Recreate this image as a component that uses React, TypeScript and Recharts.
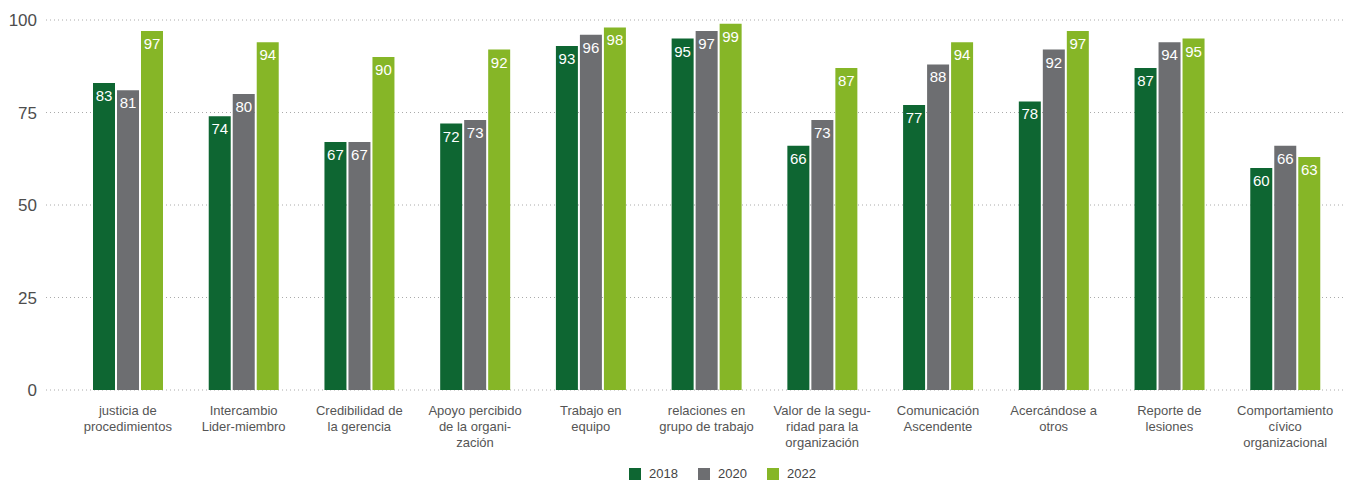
import React from "react";
import {
  BarChart,
  Bar,
  XAxis,
  YAxis,
  CartesianGrid,
  Legend,
  LabelList,
} from "recharts";

const categories = [
  "justicia de\nprocedimientos",
  "Intercambio\nLider-miembro",
  "Credibilidad de\nla gerencia",
  "Apoyo percibido\nde la organi-\nzación",
  "Trabajo en\nequipo",
  "relaciones en\ngrupo de trabajo",
  "Valor de la segu-\nridad para la\norganización",
  "Comunicación\nAscendente",
  "Acercándose a\notros",
  "Reporte de\nlesiones",
  "Comportamiento\ncívico\norganizacional",
];

const values2018 = [83, 74, 67, 72, 93, 95, 66, 77, 78, 87, 60];
const values2020 = [81, 80, 67, 73, 96, 97, 73, 88, 92, 94, 66];
const values2022 = [97, 94, 90, 92, 98, 99, 87, 94, 97, 95, 63];

const yTicks = [0, 25, 50, 75, 100];

const seriesList = [
  { key: "y2018", name: "2018", color: "#0e6632" },
  { key: "y2020", name: "2020", color: "#6d6e71" },
  { key: "y2022", name: "2022", color: "#86b627" },
];

const data = categories.map((c, i) => ({
  category: c,
  y2018: values2018[i],
  y2020: values2020[i],
  y2022: values2022[i],
}));

const FONT = '"Liberation Sans", Arial, Helvetica, sans-serif';

const CategoryTick = ({ x, y, payload }: any) => {
  const lines = String(payload.value).split("\n");
  return (
    <text x={x} y={y} textAnchor="middle" fill="#555" fontSize={13} fontFamily={FONT}>
      {lines.map((l, i) => (
        <tspan key={i} x={x} dy={i === 0 ? 25 : 16}>
          {l}
        </tspan>
      ))}
    </text>
  );
};

const ValueLabel = ({ x, y, width, value }: any) => (
  <text
    x={x + width / 2}
    y={y + 18}
    textAnchor="middle"
    fill="#fff"
    fontSize={15}
    fontFamily={FONT}
  >
    {value}
  </text>
);

const LegendBox = () => (
  <div
    style={{
      display: "flex",
      justifyContent: "center",
      gap: 20,
      fontFamily: FONT,
      fontSize: 13,
      color: "#444",
      paddingTop: 15,
      paddingLeft: 102,
    }}
  >
    {seriesList.map((s) => (
      <div key={s.key} style={{ display: "flex", alignItems: "center", gap: 8 }}>
        <span style={{ width: 12, height: 12, background: s.color, display: "inline-block" }} />
        <span>{s.name}</span>
      </div>
    ))}
  </div>
);

export default function App() {
  return (
    <div style={{ position: "absolute", left: 0, top: 0, background: "#fff" }}>
      <BarChart
        width={1347}
        height={481}
        data={data}
        margin={{ top: 20, right: 4, left: 0, bottom: 0 }}
        barSize={22}
        barGap={2}
      >
        <CartesianGrid
          vertical={false}
          stroke="#aaa"
          strokeDasharray="1 3"
        />
        <XAxis
          dataKey="category"
          axisLine={false}
          tickLine={false}
          tickSize={0}
          tickMargin={0}
          interval={0}
          height={61}
          padding={{ left: 24, right: 0 }}
          tick={<CategoryTick />}
        />
        <YAxis
          domain={[0, 100]}
          ticks={yTicks}
          axisLine={false}
          tickLine={false}
          tickSize={0}
          tickMargin={9}
          width={46}
          tick={{ fill: "#4d4d4d", fontSize: 17, fontFamily: FONT }}
        />
        <Legend verticalAlign="bottom" height={30} content={<LegendBox />} />
        {seriesList.map((s) => (
          <Bar
            key={s.key}
            dataKey={s.key}
            name={s.name}
            fill={s.color}
            isAnimationActive={false}
          >
            <LabelList dataKey={s.key} content={<ValueLabel />} />
          </Bar>
        ))}
      </BarChart>
    </div>
  );
}
